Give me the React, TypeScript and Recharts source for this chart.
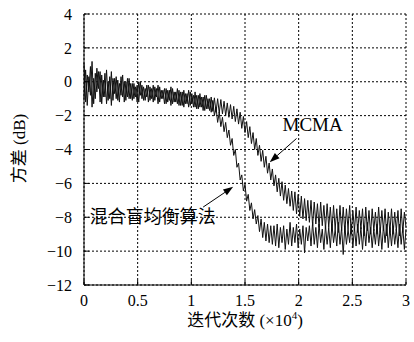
import React from "react";
import {
  LineChart,
  Line,
  XAxis,
  YAxis,
  CartesianGrid,
  ReferenceLine,
  ReferenceDot,
  Label,
} from "recharts";

// sampling step of the iteration axis (in units of 1e4)
const STEP = 0.015;

const xTicks = [0, 0.5, 1, 1.5, 2, 2.5, 3];
const yTicks = [-12, -10, -8, -6, -4, -2, 0, 2, 4];

// 混合盲均衡算法 residual variance (dB)
const hybridValues = [
  1.1, -1.2, 0.4, -0.6, 0.9, -1.5, 0.2, -1.0, 0.8, -0.4,
  0.6, -1.3, 0.1, -0.9, 0.7, -1.1, 0.3, -1.4, 0.2, -0.7,
  0.3, -1.1, -0.1, -0.8, 0.4, -1.2, 0.0, -0.9, 0.2, -1.0,
  -0.1, -1.0, -0.3, -1.2, 0.0, -0.8, -0.2, -1.1, -0.4, -0.9,
  -0.2, -1.1, -0.4, -1.2, -0.3, -0.9, -0.2, -1.2, -0.5, -1.0,
  -0.4, -1.3, -0.5, -1.1, -0.3, -1.3, -0.6, -1.2, -0.4, -1.4,
  -0.6, -1.4, -0.5, -1.3, -0.7, -1.5, -0.6, -1.3, -0.8, -1.5,
  -0.8, -1.6, -0.7, -1.5, -0.9, -1.7, -0.8, -1.6, -1.0, -1.8,
  -1.1, -2.0, -1.5, -2.4, -1.8, -2.65, -2.1, -2.95, -2.4, -3.3,
  -2.85, -3.75, -3.35, -4.35, -4.0, -5.05, -4.8, -5.8, -5.5, -6.45,
  -6.05, -7.05, -6.65, -7.6, -7.15, -8.1, -7.55, -8.4, -7.9, -8.85,
  -8.1, -9.2, -8.3, -9.4, -8.4, -9.5, -8.5, -9.6, -8.5, -9.7,
  -8.4, -9.8, -8.6, -9.5, -8.5, -9.9, -8.7, -9.6, -8.3, -9.7,
  -8.6, -9.5, -8.4, -9.8, -8.7, -9.6, -8.5, -10.1, -8.6, -9.4,
  -8.5, -9.7, -8.3, -9.6, -8.6, -9.8, -8.4, -9.5, -8.7, -9.9,
  -8.5, -9.6, -8.6, -9.8, -8.4, -9.5, -8.7, -9.7, -8.3, -9.6,
  -8.6, -10.2, -8.5, -9.6, -8.7, -9.5, -8.4, -9.8, -8.6, -9.7,
  -8.4, -9.6, -8.6, -9.9, -8.5, -9.7, -8.3, -9.5, -8.6, -9.8,
  -8.7, -9.6, -8.4, -9.7, -8.6, -9.9, -8.5, -9.5, -8.4, -9.8,
  -8.6, -9.7, -8.5, -9.6, -8.7, -9.8, -8.4, -9.6, -8.6, -9.9,
  -8.7,
];

// MCMA residual variance (dB)
const mcmaValues = [
  -1.0, 0.7, -1.4, 0.3, -0.8, 1.2, -1.3, 0.5, -0.6, 0.6,
  -1.2, 0.4, -0.9, 0.5, -1.3, 0.0, -1.0, 0.6, -1.1, 0.2,
  -1.0, 0.1, -1.2, 0.3, -0.9, 0.0, -1.1, 0.2, -1.0, -0.1,
  -1.1, -0.1, -0.9, -0.2, -1.2, 0.0, -1.0, -0.3, -1.1, -0.2,
  -1.2, -0.3, -1.0, -0.2, -1.1, -0.4, -1.3, -0.3, -1.0, -0.5,
  -1.3, -0.4, -1.2, -0.5, -1.4, -0.4, -1.2, -0.6, -1.3, -0.5,
  -1.4, -0.6, -1.5, -0.7, -1.3, -0.5, -1.4, -0.7, -1.5, -0.6,
  -1.6, -0.8, -1.5, -0.9, -1.7, -0.8, -1.6, -1.0, -1.7, -0.9,
  -1.75, -0.95, -1.8, -1.0, -1.85, -1.05, -1.9, -1.15, -2.0, -1.25,
  -2.1, -1.35, -2.2, -1.45, -2.35, -1.6, -2.5, -1.8, -2.75, -2.05,
  -3.0, -2.35, -3.3, -2.65, -3.65, -3.0, -4.0, -3.35, -4.35, -3.75,
  -4.7, -4.05, -5.05, -4.4, -5.4, -4.8, -5.8, -5.15, -6.15, -5.5,
  -6.5, -5.7, -6.75, -5.9, -7.0, -6.1, -7.2, -6.3, -7.35, -6.45,
  -7.6, -6.5, -7.8, -6.65, -7.95, -6.75, -8.1, -6.9, -8.2, -7.0,
  -8.3, -7.0, -8.5, -7.1, -8.4, -7.2, -8.6, -7.1, -8.5, -7.3,
  -8.7, -7.2, -8.6, -7.4, -8.8, -7.3, -8.7, -7.5, -8.9, -7.3,
  -8.8, -7.4, -8.9, -7.5, -8.7, -7.3, -9.0, -7.6, -8.8, -7.4,
  -8.9, -7.6, -8.7, -7.5, -9.1, -7.4, -8.8, -7.6, -9.0, -7.5,
  -8.8, -7.7, -9.0, -7.4, -8.9, -7.6, -8.8, -7.5, -9.1, -7.7,
  -8.9, -7.5, -9.0, -7.7, -8.8, -7.6, -9.1, -7.5, -8.9, -7.7,
  -8.6,
];

const data = hybridValues.map((v, i) => ({
  x: i * STEP,
  hybrid: v,
  mcma: mcmaValues[i],
}));

const FONT = "'Times New Roman', 'Liberation Serif', 'DejaVu Serif', 'Noto Sans CJK SC', serif";

const fmtY = (v: number) => (v < 0 ? `\u2212${Math.abs(v)}` : `${v}`);

const Arrow = (props: any) => {
  const { x1, y1, x2, y2 } = props;
  const ang = Math.atan2(y2 - y1, x2 - x1);
  const len = 10;
  const w = 3.5;
  const bx = x2 - len * Math.cos(ang);
  const by = y2 - len * Math.sin(ang);
  const px = -Math.sin(ang) * w;
  const py = Math.cos(ang) * w;
  return (
    <g>
      <line x1={x1} y1={y1} x2={bx} y2={by} stroke="#000" strokeWidth={1} />
      <polygon points={`${x2},${y2} ${bx + px},${by + py} ${bx - px},${by - py}`} fill="#000" />
    </g>
  );
};

const textAt = (label: string, size: number) => (props: any) => (
  <text
    x={props.cx}
    y={props.cy}
    textAnchor="middle"
    dominantBaseline="central"
    style={{ fontFamily: FONT, fontSize: size }}
    fill="#000"
  >
    {label}
  </text>
);

const YTitle = (props: any) => {
  const { x, y, height } = props.viewBox;
  const cx = x + 19;
  const cy = y + height / 2 - 1;
  return (
    <text
      x={cx}
      y={cy}
      transform={`rotate(-90 ${cx} ${cy})`}
      textAnchor="middle"
      dominantBaseline="central"
      style={{ fontFamily: FONT, fontSize: 17 }}
      fill="#000"
    >
      方差 (dB)
    </text>
  );
};

const XTitle = (props: any) => {
  const { x, y, width } = props.viewBox;
  return (
    <text
      x={x + width / 2}
      y={y + 41}
      textAnchor="middle"
      style={{ fontFamily: FONT, fontSize: 17 }}
      fill="#000"
    >
      迭代次数 (×10
      <tspan dy={-7} style={{ fontSize: 11 }}>4</tspan>
      <tspan dy={7}>)</tspan>
    </text>
  );
};

const tickStyle = { fill: "#000", style: { fontFamily: FONT, fontSize: 16 } };

export default function App() {
  return (
    <div style={{ position: "absolute", left: 0, top: 0, background: "#fff", fontFamily: FONT }}>
      <LineChart
        width={414}
        height={342}
        data={data}
        margin={{ top: 14, right: 8, bottom: 17, left: 0 }}
      >
        <CartesianGrid stroke="#000" strokeDasharray="2 2" strokeWidth={1} />
        <XAxis
          dataKey="x"
          type="number"
          domain={[0, 3]}
          ticks={xTicks}
          height={40}
          stroke="#000"
          tickSize={-5}
          tickMargin={15}
          tick={tickStyle}
        >
          <Label content={XTitle} />
        </XAxis>
        <XAxis
          xAxisId="top"
          orientation="top"
          dataKey="x"
          type="number"
          domain={[0, 3]}
          ticks={xTicks}
          height={0}
          stroke="#000"
          tickSize={-5}
          tickFormatter={() => ""}
        />
        <YAxis
          domain={[-12, 4]}
          ticks={yTicks}
          width={84}
          stroke="#000"
          tickSize={-5}
          tickMargin={17}
          tick={tickStyle}
          tickFormatter={fmtY}
        >
          <Label content={YTitle} />
        </YAxis>
        <YAxis
          yAxisId="right"
          orientation="right"
          domain={[-12, 4]}
          ticks={yTicks}
          width={0}
          stroke="#000"
          tickSize={-5}
          tickFormatter={() => ""}
        />
        <Line
          dataKey="mcma"
          type="linear"
          stroke="#111"
          strokeWidth={1}
          dot={false}
          isAnimationActive={false}
        />
        <Line
          dataKey="hybrid"
          type="linear"
          stroke="#111"
          strokeWidth={1}
          dot={false}
          isAnimationActive={false}
        />
        <ReferenceLine
          segment={[{ x: 1.98, y: -3.35 }, { x: 1.73, y: -4.75 }]}
          shape={Arrow}
        />
        <ReferenceLine
          segment={[{ x: 1.11, y: -7.4 }, { x: 1.39, y: -6.2 }]}
          shape={Arrow}
        />
        <ReferenceDot x={2.13} y={-2.55} r={0} shape={textAt("MCMA", 19)} />
        <ReferenceDot x={0.64} y={-7.98} r={0} shape={textAt("混合盲均衡算法", 18)} />
      </LineChart>
    </div>
  );
}
